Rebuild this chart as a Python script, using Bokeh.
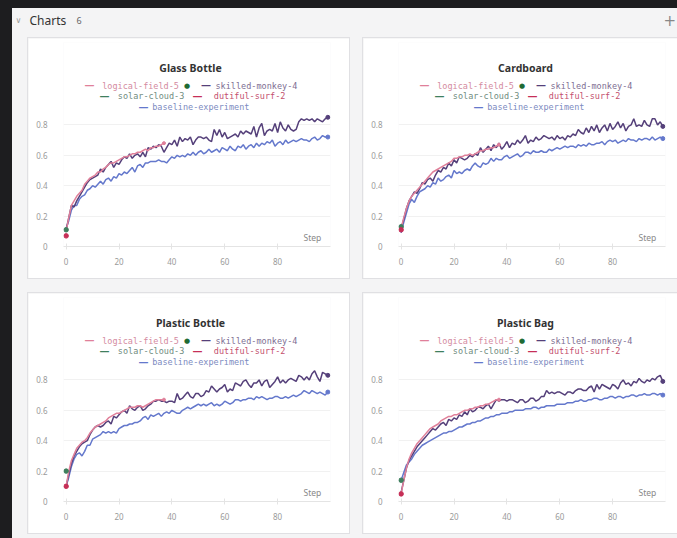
from bokeh.plotting import figure
from bokeh.models import Label, Spacer, Range1d, FixedTicker, CustomJSTickFormatter
from bokeh.layouts import column, row
from bokeh.embed import file_html
from bokeh.resources import INLINE

# ---------------- data ----------------
steps = list(range(100))
lf_steps = list(range(38))

titles = ["Glass Bottle", "Cardboard", "Plastic Bottle", "Plastic Bag"]
series_names = ["logical-field-5", "skilled-monkey-4", "solar-cloud-3", "dutiful-surf-2", "baseline-experiment"]
x_ticks = [0, 20, 40, 60, 80]
y_ticks = [0, 0.2, 0.4, 0.6, 0.8]

glass_sm = [0.11, 0.19, 0.27, 0.26, 0.30, 0.33, 0.36, 0.39, 0.42, 0.44,
            0.45, 0.46, 0.47, 0.51, 0.49, 0.52, 0.54, 0.56, 0.52, 0.55,
            0.54, 0.57, 0.59, 0.58, 0.61, 0.58, 0.60, 0.61, 0.59, 0.62,
            0.59, 0.65, 0.64, 0.66, 0.65, 0.67, 0.66, 0.62, 0.65, 0.68,
            0.67, 0.70, 0.66, 0.72, 0.69, 0.71, 0.70, 0.72, 0.67, 0.70,
            0.72, 0.72, 0.71, 0.72, 0.70, 0.69, 0.77, 0.73, 0.77, 0.72,
            0.75, 0.71, 0.72, 0.73, 0.74, 0.72, 0.76, 0.74, 0.76, 0.75,
            0.74, 0.79, 0.72, 0.78, 0.81, 0.73, 0.76, 0.77, 0.76, 0.81,
            0.75, 0.82, 0.78, 0.76, 0.80, 0.77, 0.76, 0.77, 0.82, 0.84,
            0.83, 0.84, 0.83, 0.84, 0.82, 0.84, 0.83, 0.82, 0.84, 0.85]
glass_bl = [0.12, 0.17, 0.24, 0.27, 0.27, 0.31, 0.33, 0.34, 0.37, 0.38,
            0.40, 0.39, 0.41, 0.43, 0.41, 0.44, 0.45, 0.43, 0.46, 0.45,
            0.48, 0.47, 0.49, 0.48, 0.50, 0.52, 0.49, 0.53, 0.54, 0.52,
            0.55, 0.55, 0.56, 0.56, 0.56, 0.57, 0.56, 0.56, 0.55, 0.57,
            0.59, 0.58, 0.60, 0.59, 0.60, 0.59, 0.61, 0.60, 0.62, 0.60,
            0.62, 0.63, 0.61, 0.62, 0.64, 0.62, 0.63, 0.64, 0.62, 0.65,
            0.64, 0.63, 0.66, 0.64, 0.63, 0.66, 0.65, 0.67, 0.64, 0.66,
            0.67, 0.65, 0.68, 0.66, 0.68, 0.67, 0.69, 0.68, 0.70, 0.66,
            0.68, 0.69, 0.67, 0.70, 0.68, 0.69, 0.70, 0.69, 0.70, 0.71,
            0.70, 0.70, 0.69, 0.71, 0.72, 0.70, 0.71, 0.73, 0.72, 0.72]
glass_lf = [0.10, 0.19, 0.27, 0.30, 0.33, 0.35, 0.37, 0.41, 0.43, 0.45,
            0.46, 0.47, 0.49, 0.49, 0.51, 0.52, 0.54, 0.55, 0.55, 0.56,
            0.57, 0.58, 0.59, 0.59, 0.60, 0.61, 0.61, 0.62, 0.62, 0.63,
            0.64, 0.63, 0.65, 0.65, 0.66, 0.66, 0.67, 0.68]
glass_sc = 0.11
glass_ds = 0.07

card_sm = [0.12, 0.18, 0.25, 0.30, 0.33, 0.36, 0.35, 0.38, 0.42, 0.41,
           0.44, 0.45, 0.43, 0.47, 0.50, 0.49, 0.52, 0.51, 0.55, 0.53,
           0.57, 0.55, 0.59, 0.58, 0.57, 0.58, 0.60, 0.59, 0.61, 0.60,
           0.65, 0.62, 0.64, 0.66, 0.63, 0.67, 0.65, 0.68, 0.64, 0.66,
           0.69, 0.65, 0.68, 0.67, 0.70, 0.68, 0.70, 0.73, 0.68, 0.70,
           0.69, 0.72, 0.70, 0.71, 0.73, 0.72, 0.71, 0.72, 0.70, 0.73,
           0.71, 0.72, 0.70, 0.73, 0.72, 0.74, 0.73, 0.77, 0.75, 0.74,
           0.78, 0.75, 0.79, 0.76, 0.80, 0.75, 0.78, 0.80, 0.76, 0.81,
           0.77, 0.79, 0.82, 0.78, 0.81, 0.76, 0.79, 0.80, 0.84, 0.79,
           0.80, 0.79, 0.83, 0.80, 0.79, 0.84, 0.84, 0.80, 0.82, 0.79]
card_bl = [0.09, 0.16, 0.22, 0.28, 0.31, 0.29, 0.33, 0.36, 0.37, 0.38,
           0.40, 0.39, 0.42, 0.41, 0.45, 0.43, 0.44, 0.46, 0.47, 0.45,
           0.50, 0.48, 0.49, 0.48, 0.50, 0.51, 0.50, 0.53, 0.55, 0.53,
           0.52, 0.55, 0.54, 0.55, 0.58, 0.56, 0.58, 0.57, 0.57, 0.59,
           0.60, 0.58, 0.59, 0.60, 0.61, 0.59, 0.60, 0.62, 0.62, 0.61,
           0.63, 0.62, 0.62, 0.63, 0.62, 0.62, 0.64, 0.63, 0.64, 0.65,
           0.64, 0.65, 0.66, 0.65, 0.66, 0.66, 0.65, 0.67, 0.66, 0.67,
           0.66, 0.68, 0.67, 0.67, 0.68, 0.68, 0.69, 0.67, 0.69, 0.70,
           0.69, 0.70, 0.68, 0.69, 0.70, 0.69, 0.71, 0.70, 0.70, 0.69,
           0.71, 0.70, 0.71, 0.71, 0.70, 0.72, 0.70, 0.71, 0.72, 0.71]
card_lf = [0.12, 0.19, 0.25, 0.30, 0.33, 0.35, 0.37, 0.39, 0.41, 0.43,
           0.45, 0.47, 0.49, 0.50, 0.51, 0.52, 0.53, 0.54, 0.55, 0.56,
           0.58, 0.58, 0.59, 0.59, 0.60, 0.60, 0.61, 0.60, 0.61, 0.62,
           0.63, 0.63, 0.64, 0.64, 0.65, 0.65, 0.66, 0.67]
card_sc = 0.13
card_ds = 0.11

pbot_sm = [0.10, 0.18, 0.25, 0.30, 0.33, 0.36, 0.38, 0.39, 0.40, 0.44,
           0.47, 0.49, 0.50, 0.49, 0.50, 0.52, 0.53, 0.51, 0.56, 0.55,
           0.57, 0.59, 0.60, 0.58, 0.63, 0.61, 0.60, 0.62, 0.63, 0.60,
           0.61, 0.63, 0.64, 0.66, 0.66, 0.67, 0.66, 0.66, 0.65, 0.66,
           0.66, 0.65, 0.71, 0.67, 0.68, 0.70, 0.72, 0.69, 0.68, 0.71,
           0.71, 0.69, 0.70, 0.73, 0.72, 0.76, 0.74, 0.72, 0.74, 0.75,
           0.77, 0.72, 0.74, 0.73, 0.78, 0.77, 0.76, 0.79, 0.80, 0.77,
           0.75, 0.78, 0.78, 0.80, 0.76, 0.79, 0.80, 0.75, 0.77, 0.79,
           0.82, 0.78, 0.80, 0.78, 0.80, 0.81, 0.80, 0.79, 0.83, 0.82,
           0.80, 0.82, 0.80, 0.84, 0.86, 0.82, 0.79, 0.85, 0.84, 0.83]
pbot_bl = [0.10, 0.16, 0.23, 0.28, 0.31, 0.32, 0.30, 0.33, 0.37, 0.37,
           0.41, 0.42, 0.43, 0.44, 0.46, 0.45, 0.46, 0.45, 0.46, 0.45,
           0.48, 0.49, 0.50, 0.50, 0.51, 0.51, 0.52, 0.52, 0.53, 0.55,
           0.56, 0.54, 0.57, 0.56, 0.57, 0.58, 0.56, 0.58, 0.59, 0.58,
           0.60, 0.59, 0.58, 0.58, 0.60, 0.61, 0.62, 0.61, 0.62, 0.63,
           0.64, 0.63, 0.64, 0.63, 0.64, 0.65, 0.63, 0.64, 0.63, 0.64,
           0.66, 0.65, 0.64, 0.65, 0.67, 0.67, 0.66, 0.67, 0.67, 0.68,
           0.68, 0.67, 0.69, 0.68, 0.69, 0.68, 0.67, 0.68, 0.68, 0.69,
           0.69, 0.68, 0.68, 0.69, 0.68, 0.69, 0.70, 0.69, 0.70, 0.71,
           0.73, 0.72, 0.71, 0.73, 0.72, 0.71, 0.72, 0.71, 0.70, 0.72]
pbot_lf = [0.10, 0.20, 0.27, 0.31, 0.35, 0.37, 0.39, 0.40, 0.42, 0.45,
           0.47, 0.49, 0.50, 0.51, 0.52, 0.53, 0.55, 0.56, 0.57, 0.58,
           0.58, 0.59, 0.60, 0.61, 0.62, 0.62, 0.62, 0.63, 0.63, 0.62,
           0.63, 0.64, 0.65, 0.66, 0.67, 0.67, 0.67, 0.67]
pbot_sc = 0.20
pbot_ds = 0.10

pbag_sm = [0.06, 0.14, 0.22, 0.27, 0.30, 0.33, 0.36, 0.38, 0.40, 0.42,
           0.44, 0.46, 0.48, 0.47, 0.49, 0.51, 0.52, 0.50, 0.54, 0.53,
           0.55, 0.54, 0.57, 0.56, 0.59, 0.57, 0.61, 0.59, 0.60, 0.62,
           0.62, 0.61, 0.63, 0.64, 0.61, 0.64, 0.67, 0.66, 0.67, 0.67,
           0.66, 0.67, 0.67, 0.66, 0.65, 0.67, 0.67, 0.65, 0.66, 0.68,
           0.68, 0.66, 0.67, 0.69, 0.69, 0.73, 0.71, 0.72, 0.71, 0.72,
           0.72, 0.71, 0.70, 0.72, 0.72, 0.71, 0.73, 0.74, 0.74, 0.73,
           0.73, 0.75, 0.76, 0.72, 0.77, 0.74, 0.77, 0.76, 0.75, 0.74,
           0.77, 0.76, 0.74, 0.78, 0.80, 0.77, 0.78, 0.76, 0.79, 0.78,
           0.81, 0.79, 0.78, 0.80, 0.79, 0.81, 0.80, 0.82, 0.83, 0.79]
pbag_bl = [0.14, 0.19, 0.24, 0.26, 0.28, 0.31, 0.33, 0.35, 0.37, 0.38,
           0.39, 0.40, 0.41, 0.42, 0.43, 0.44, 0.45, 0.45, 0.46, 0.46,
           0.47, 0.48, 0.49, 0.49, 0.50, 0.51, 0.51, 0.52, 0.52, 0.53,
           0.53, 0.54, 0.55, 0.55, 0.56, 0.56, 0.57, 0.57, 0.58, 0.58,
           0.58, 0.59, 0.59, 0.60, 0.60, 0.60, 0.60, 0.61, 0.61, 0.61,
           0.62, 0.62, 0.61, 0.62, 0.62, 0.63, 0.63, 0.63, 0.63, 0.64,
           0.64, 0.64, 0.64, 0.65, 0.65, 0.65, 0.66, 0.66, 0.67, 0.66,
           0.66, 0.67, 0.67, 0.68, 0.68, 0.67, 0.67, 0.68, 0.68, 0.69,
           0.69, 0.68, 0.69, 0.69, 0.68, 0.69, 0.69, 0.70, 0.70, 0.69,
           0.70, 0.70, 0.71, 0.70, 0.70, 0.71, 0.71, 0.70, 0.71, 0.70]
pbag_lf = [0.05, 0.14, 0.22, 0.28, 0.32, 0.35, 0.38, 0.40, 0.42, 0.44,
           0.46, 0.48, 0.49, 0.50, 0.51, 0.53, 0.54, 0.55, 0.56, 0.56,
           0.57, 0.57, 0.58, 0.59, 0.60, 0.60, 0.61, 0.61, 0.62, 0.62,
           0.63, 0.63, 0.64, 0.64, 0.65, 0.66, 0.67, 0.67]
pbag_sc = 0.14
pbag_ds = 0.05

# ---------------- styling ----------------
PANEL_BG = "#f4f4f5"
DARK = "#1d1d1f"
C_LF, C_SM, C_SC, C_DS, C_BL = "#e0809a", "#55407a", "#3f7f5e", "#c62f57", "#6478cc"
T_LF, T_SM, T_SC, T_DS, T_BL = "#d48aa0", "#7e6e92", "#6f8c80", "#c4506e", "#7d8bbf"
TICK_FONT = "Noto Sans"
MONO = "DejaVu Sans Mono"

CARD_H = 240
FRAME_L, FRAME_W = 35, 267
FRAME_T = 4            # frame starts near card top so title/legend live inside it
ZERO_Y = 208           # y=0 line, from card top
PX_PER_UNIT = 152.0


def make_card(title, sm, bl, lf, sc, ds, width):
    frame_h = ZERO_Y - FRAME_T
    p = figure(width=width, height=CARD_H, x_range=Range1d(-1, 100),
               y_range=Range1d(0, frame_h / PX_PER_UNIT),
               toolbar_location=None, output_backend="svg",
               min_border_left=FRAME_L, min_border_right=width - FRAME_L - FRAME_W,
               min_border_top=FRAME_T, min_border_bottom=CARD_H - ZERO_Y,
               background_fill_color="white", border_fill_color="white",
               outline_line_color=None,
               styles={"box-shadow": "0 0 0 1px #e0e0e3"})

    p.line(steps, bl, color=C_BL, line_width=1.5)
    p.line(steps, sm, color=C_SM, line_width=1.5)
    p.line(lf_steps, lf, color=C_LF, line_width=1.5)
    p.scatter([steps[-1]], [bl[-1]], size=4, color=C_BL)
    p.scatter([steps[-1]], [sm[-1]], size=4, color=C_SM)
    p.scatter([lf_steps[-1]], [lf[-1]], size=3, color=C_LF)
    p.scatter([0], [sc], size=4.5, color=C_SC)
    p.scatter([0], [ds], size=4.5, color=C_DS)

    xa = p.xaxis[0]
    xa.ticker = FixedTicker(ticks=x_ticks)
    xa.axis_line_color = "#e4e4e4"
    xa.major_tick_line_color = "#e4e4e4"
    xa.major_tick_in = 3
    xa.major_tick_out = 3
    xa.minor_tick_line_color = None
    xa.major_label_text_font = TICK_FONT
    xa.major_label_text_font_size = "8px"
    xa.major_label_text_color = "#9a9a9a"
    xa.major_label_standoff = 8

    ya = p.yaxis[0]
    ya.ticker = FixedTicker(ticks=y_ticks)
    ya.axis_line_color = None
    ya.major_tick_line_color = None
    ya.minor_tick_line_color = None
    ya.major_label_text_font = TICK_FONT
    ya.major_label_text_font_size = "8px"
    ya.major_label_text_color = "#9a9a9a"
    ya.major_label_standoff = 10
    ya.formatter = CustomJSTickFormatter(code="return tick == 0 ? '0' : tick.toFixed(1);")

    p.xgrid.grid_line_color = None
    p.ygrid.ticker = FixedTicker(ticks=y_ticks[1:])
    p.ygrid.grid_line_color = "#f1f1f1"

    p.add_layout(Label(x=96.5, y=0.02, text="Step", text_align="right", text_baseline="bottom",
                       text_font=TICK_FONT, text_font_size="8.5px", text_color="#888888"))

    def lab(cx, cy, text, color, font, size, align="left", style="normal"):
        # cx, cy measured from the card's top-left corner
        p.add_layout(Label(x=cx - FRAME_L, y=ZERO_Y - cy, x_units="screen", y_units="screen",
                           text=text, text_color=color, text_font=font, text_font_size=size,
                           text_align=align, text_baseline="middle", text_font_style=style))

    lab(162, 29, title, "#333333", "Noto Sans", "10.5px", align="center", style="bold")
    legend_rows = [
        (47, [("—", 56, C_LF, "dash"), (series_names[0], 73.7, T_LF, "t"), ("●", 155.5, "#1f6b34", "t"),
              ("—", 172.5, C_SM, "dash"), (series_names[1], 187, T_SM, "t")]),
        (57.7, [("—", 71, C_SC, "dash"), (series_names[2], 89.3, T_SC, "t"),
                ("—", 164, C_DS, "dash"), (series_names[3], 185.3, T_DS, "t")]),
        (68.7, [("—", 110, C_BL, "dash"), (series_names[4], 123.7, T_BL, "t")]),
    ]
    for cy, items in legend_rows:
        for text, cx, color, kind in items:
            if kind == "dash":
                lab(cx, cy, text, color, "DejaVu Sans", "10px", style="bold")
            elif text == "●":
                lab(cx, cy, text, color, "DejaVu Sans", "7px")
            else:
                lab(cx, cy, text, color, MONO, "8.5px")
    return p


def header_fig(width, height):
    h = figure(width=width, height=height, x_range=Range1d(0, 1), y_range=Range1d(0, 1),
               toolbar_location=None, output_backend="svg",
               x_axis_location=None, y_axis_location=None, min_border=0,
               background_fill_color=PANEL_BG, border_fill_color=PANEL_BG, outline_line_color=None)
    h.grid.visible = False

    def hl(x, y_top, text, color, size, style="normal", font="Noto Sans"):
        h.add_layout(Label(x=x, y=height - y_top, x_units="screen", y_units="screen", text=text,
                           text_color=color, text_font=font, text_font_size=size,
                           text_baseline="middle", text_font_style=style))
    hl(3, 12, "∨", "#9a9a9a", "8px", font="DejaVu Sans")
    hl(17, 12, "Charts", "#333333", "12px")
    hl(64, 12, "6", "#666666", "9px")
    hl(width - 14, 11, "+", "#888888", "15px", font="DejaVu Sans")
    return h


# page is 677 x 538, laid out from the top-left corner
W_IN = 665
header = header_fig(W_IN, 30)
c1 = make_card(titles[0], glass_sm, glass_bl, glass_lf, glass_sc, glass_ds, 321)
c2 = make_card(titles[1], card_sm, card_bl, card_lf, card_sc, card_ds, 314)
c3 = make_card(titles[2], pbot_sm, pbot_bl, pbot_lf, pbot_sc, pbot_ds, 321)
c4 = make_card(titles[3], pbag_sm, pbag_bl, pbag_lf, pbag_sc, pbag_ds, 314)

row1 = row(Spacer(width=16, height=CARD_H), c1, Spacer(width=14, height=CARD_H), c2, spacing=0)
row2 = row(Spacer(width=16, height=CARD_H), c3, Spacer(width=14, height=CARD_H), c4, spacing=0)
inner = column(header, row1, Spacer(width=W_IN, height=15), row2, Spacer(width=W_IN, height=5),
               spacing=0, styles={"background-color": PANEL_BG})
left_dark = Spacer(width=12, height=530, styles={"background-color": DARK})
top_dark = Spacer(width=677, height=8, styles={"background-color": DARK})
page = column(top_dark, row(left_dark, inner, spacing=0), spacing=0)

open("out.html", "w").write(file_html(page, INLINE))
